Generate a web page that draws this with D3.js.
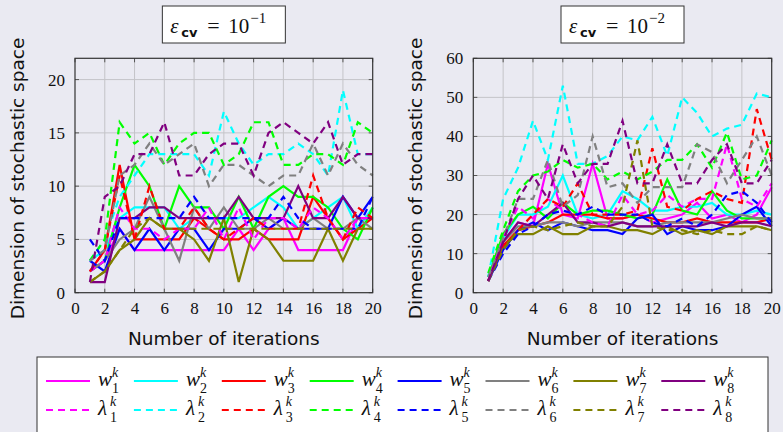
<!DOCTYPE html>
<html>
<head>
<meta charset="utf-8">
<script src="https://cdn.jsdelivr.net/npm/d3@7"></script>
<style>
body { margin: 0; background: #eaeaf2; }
svg { display: block; }
</style>
</head>
<body>
<script>
// iteration numbers on the x axis
var iterations = [1,2,3,4,5,6,7,8,9,10,11,12,13,14,15,16,17,18,19,20];

// eps_cv = 1e-1 : solid w_i^k (rows = i)
var wCoarse = [
  [2,3,6,4,4,4,4,4,4,4,6,4,6,7,4,4,4,4,7,7],
  [3,4,7,8,8,8,6,7,7,7,7,8,9,8,6,7,8,9,6,8],
  [2,4,12,5,5,5,5,7,6,5,5,6,5,5,5,9,7,5,6,7],
  [2,3,8,12,10,6,10,8,8,6,9,6,9,10,9,9,8,6,5,8],
  [3,2,6,4,6,4,6,6,4,6,6,7,6,7,6,6,6,9,7,9],
  [2,3,5,6,9,6,3,8,6,8,6,6,7,6,6,7,6,6,7,6],
  [1,2,4,5,7,6,6,5,3,7,1,6,5,3,3,3,6,3,6,6],
  [1,1,7,7,8,8,7,7,7,7,9,7,7,7,10,7,7,9,7,7]
];
// eps_cv = 1e-1 : dashed lambda_i^k
var lamCoarse = [
  [2,3,8,6,6,5,6,6,8,5,8,5,7,7,6,8,7,5,7,7],
  [3,5,9,11,13,13,13,13,11,17,14,12,13,13,14,13,11,19,13,13],
  [2,4,11,5,10,6,6,8,6,5,6,7,6,6,6,11,7,5,8,7],
  [3,5,16,14,15,12,14,15,15,12,13,16,16,12,12,13,13,12,16,15],
  [5,3,7,7,7,7,7,9,7,7,7,7,7,9,7,6,6,6,6,9],
  [3,4,11,12,14,12,13,14,10,12,12,11,10,11,11,14,11,14,12,11],
  [1,2,4,6,7,6,6,6,6,6,6,6,6,6,6,6,6,6,6,6],
  [1,9,10,13,13,16,11,11,13,14,14,11,15,16,15,14,16,12,13,13]
];
// eps_cv = 1e-2 : solid w_i^k
var wFine = [
  [3,13,18,17,33,20,19,33,19,19,20,18,19,20,23,19,20,18,20,27],
  [4,14,20,20,22,30,20,19,20,26,24,21,21,22,22,23,20,20,21,20],
  [3,12,16,17,18,20,20,20,19,19,20,19,18,18,19,18,18,18,18,19],
  [4,15,20,22,19,23,20,21,21,20,19,20,29,21,20,26,21,19,19,19],
  [3,11,16,18,16,18,17,16,16,15,19,20,15,17,16,16,17,20,22,17],
  [4,13,17,17,18,18,17,18,18,18,17,17,18,18,18,18,19,20,19,19],
  [3,12,15,15,17,15,15,17,17,16,16,15,17,15,16,15,17,17,17,16],
  [3,13,18,17,20,23,18,18,17,18,17,17,17,17,17,18,17,18,18,17]
];
// eps_cv = 1e-2 : dashed lambda_i^k
var lamFine = [
  [3,14,22,19,24,21,20,18,17,25,20,21,25,22,24,24,38,24,22,28],
  [4,24,32,44,34,53,33,33,35,40,39,45,35,50,46,40,42,43,51,50],
  [3,12,16,20,24,22,28,20,20,20,21,37,22,21,24,26,24,23,47,34],
  [5,16,26,30,31,34,32,33,29,31,29,31,34,34,38,32,41,29,30,39],
  [3,10,15,17,20,21,20,22,20,20,20,18,17,19,17,20,25,26,23,18],
  [4,14,24,24,34,22,25,40,27,28,23,27,27,27,38,36,28,34,40,30],
  [3,11,16,17,16,17,18,17,17,22,39,17,16,16,15,16,15,15,17,16],
  [3,13,24,30,24,38,28,33,33,44,28,28,38,28,28,34,38,28,28,34]
];

var xTicks = [0,2,4,6,8,10,12,14,16,18,20];
var yTicksCoarse = [0,5,10,15,20];
var yTicksFine = [0,10,20,30,40,50,60];
var titleExp = ["\u22121", "\u22122"];
var lineColors = ["#ff00ff","#00ffff","#ff0000","#00ff00","#0000ff","#808080","#808000","#800080"];

var w = 783, h = 432;
var bg = "#eaeaf2";
var serif = "'Liberation Serif', 'DejaVu Serif', serif";
var sans = "'DejaVu Sans', sans-serif";

var svg = d3.select("body").append("svg")
  .attr("width", w).attr("height", h);
svg.append("rect").attr("width", w).attr("height", h).attr("fill", bg);

function drawPanel(left, right, ymax, yTicks, wRows, lamRows, exp) {
  var top = 58.3, bottom = 292.7;
  var x = d3.scaleLinear().domain([0, 20]).range([left, right]);
  var y = d3.scaleLinear().domain([0, ymax]).range([bottom, top]);
  var g = svg.append("g");

  // grid
  g.selectAll(".vg").data(xTicks.slice(1, -1)).enter().append("line")
    .attr("x1", d => x(d)).attr("x2", d => x(d))
    .attr("y1", top).attr("y2", bottom)
    .attr("stroke", "#c4c4c8").attr("stroke-width", 1);
  g.selectAll(".hg").data(yTicks.filter(d => d > 0 && d < ymax)).enter().append("line")
    .attr("y1", d => y(d)).attr("y2", d => y(d))
    .attr("x1", left).attr("x2", right)
    .attr("stroke", "#c4c4c8").attr("stroke-width", 1);

  // inner tick marks on all four sides
  var tk = 4;
  xTicks.forEach(function(t) {
    g.append("line").attr("x1", x(t)).attr("x2", x(t)).attr("y1", bottom).attr("y2", bottom - tk)
      .attr("stroke", "#555").attr("stroke-width", 1);
    g.append("line").attr("x1", x(t)).attr("x2", x(t)).attr("y1", top).attr("y2", top + tk)
      .attr("stroke", "#555").attr("stroke-width", 1);
  });
  yTicks.forEach(function(t) {
    g.append("line").attr("x1", left).attr("x2", left + tk).attr("y1", y(t)).attr("y2", y(t))
      .attr("stroke", "#555").attr("stroke-width", 1);
    g.append("line").attr("x1", right).attr("x2", right - tk).attr("y1", y(t)).attr("y2", y(t))
      .attr("stroke", "#555").attr("stroke-width", 1);
  });

  var line = d3.line()
    .x((d, i) => x(iterations[i]))
    .y(d => y(d));

  wRows.forEach(function(row, i) {
    g.append("path").attr("d", line(row))
      .attr("fill", "none").attr("stroke", lineColors[i])
      .attr("stroke-width", 2.2);
  });
  lamRows.forEach(function(row, i) {
    g.append("path").attr("d", line(row))
      .attr("fill", "none").attr("stroke", lineColors[i])
      .attr("stroke-width", 2.2).attr("stroke-dasharray", "7,5");
  });

  // frame
  g.append("rect").attr("x", left).attr("y", top)
    .attr("width", right - left).attr("height", bottom - top)
    .attr("fill", "none").attr("stroke", "#333").attr("stroke-width", 1.2);

  // axes labels
  var xa = g.append("g").attr("transform", "translate(0," + bottom + ")")
    .call(d3.axisBottom(x).tickValues(xTicks).tickSize(0).tickPadding(9));
  var ya = g.append("g").attr("transform", "translate(" + left + ",0)")
    .call(d3.axisLeft(y).tickValues(yTicks).tickSize(0).tickPadding(10));
  [xa, ya].forEach(function(a) {
    a.select(".domain").remove();
    a.selectAll("text").attr("font-family", serif).attr("font-size", 17).attr("fill", "#111");
  });

  var cx = (left + right) / 2;
  g.append("text").attr("x", cx).attr("y", 345)
    .attr("text-anchor", "middle").attr("font-family", sans).attr("font-size", 18.5)
    .attr("fill", "#111").text("Number of iterations");
  g.append("text")
    .attr("transform", "translate(" + (left - 57.5) + "," + 178.5 + ") rotate(-90)")
    .attr("text-anchor", "middle").attr("dy", "0.35em")
    .attr("font-family", sans).attr("font-size", 18.5)
    .attr("fill", "#111").text("Dimension of stochastic space");

  // title box
  var bx = cx - 61.5;
  g.append("rect").attr("x", bx).attr("y", 6).attr("width", 123).attr("height", 37)
    .attr("fill", "#fff").attr("stroke", "#333").attr("stroke-width", 1);
  g.append("text").attr("x", bx + 8).attr("y", 33).attr("font-family", serif)
    .attr("font-style", "italic").attr("font-size", 21).attr("fill", "#111").text("\u03b5");
  g.append("text").attr("x", bx + 19).attr("y", 37).attr("font-family", sans)
    .attr("font-size", 13).attr("font-weight", "bold").attr("fill", "#111").text("cv");
  g.append("text").attr("x", bx + 45).attr("y", 33).attr("font-family", serif)
    .attr("font-size", 22).attr("fill", "#111").text("=");
  g.append("text").attr("x", bx + 66).attr("y", 33).attr("font-family", serif)
    .attr("font-size", 21).attr("fill", "#111").text("10");
  g.append("text").attr("x", bx + 88).attr("y", 23).attr("font-family", serif)
    .attr("font-size", 15).attr("fill", "#111").text(exp);
}

drawPanel(75, 372.7, 22, yTicksCoarse, wCoarse, lamCoarse, titleExp[0]);
drawPanel(473.3, 771.7, 60, yTicksFine, wFine, lamFine, titleExp[1]);

// legend
var lg = svg.append("g");
lg.append("rect").attr("x", 37).attr("y", 357).attr("width", 731).attr("height", 90)
  .attr("fill", "#fff").attr("stroke", "#333").attr("stroke-width", 1);

var rows = [{sym: "w", y: 381, dash: null, off: 14}, {sym: "\u03bb", y: 410, dash: "7,5", off: 12}];
rows.forEach(function(r) {
  lineColors.forEach(function(c, i) {
    var x0 = 46 + i * 87.9;
    lg.append("line").attr("x1", x0).attr("x2", x0 + 44).attr("y1", r.y).attr("y2", r.y)
      .attr("stroke", c).attr("stroke-width", 2.2).attr("stroke-dasharray", r.dash);
    lg.append("text").attr("x", x0 + 52).attr("y", r.y + 5)
      .attr("font-family", serif).attr("font-style", "italic").attr("font-size", 21)
      .attr("fill", "#111").text(r.sym);
    lg.append("text").attr("x", x0 + 52 + r.off).attr("y", r.y + 12)
      .attr("font-family", serif).attr("font-size", 14).attr("fill", "#111").text(i + 1);
    lg.append("text").attr("x", x0 + 52 + r.off).attr("y", r.y - 4)
      .attr("font-family", serif).attr("font-style", "italic").attr("font-size", 14)
      .attr("fill", "#111").text("k");
  });
});
</script>
</body>
</html>
